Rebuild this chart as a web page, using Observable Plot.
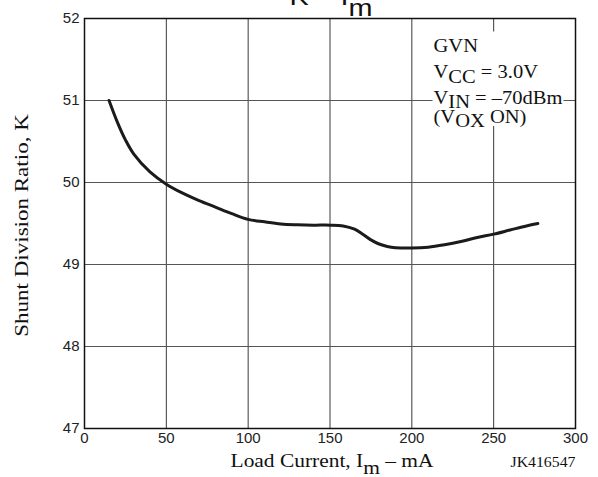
<!DOCTYPE html>
<html>
<head>
<meta charset="utf-8">
<script src="https://cdn.jsdelivr.net/npm/d3@7"></script>
<script src="https://cdn.jsdelivr.net/npm/@observablehq/plot@0.6"></script>
<style>
  html, body { margin: 0; padding: 0; background: white; }
</style>
</head>
<body>
<script>
// ---- data ----
const loadCurrent = [15, 20, 25, 30, 40, 50, 60, 70, 80, 90, 100, 110, 120, 130, 140, 150, 158, 165, 170, 175, 180, 185, 190, 200, 210, 220, 230, 240, 250, 260, 270, 277];
const shuntRatio  = [51.0, 50.74, 50.52, 50.35, 50.13, 49.98, 49.87, 49.78, 49.70, 49.62, 49.55, 49.52, 49.495, 49.485, 49.48, 49.48, 49.47, 49.43, 49.37, 49.30, 49.25, 49.22, 49.205, 49.20, 49.21, 49.24, 49.28, 49.33, 49.37, 49.42, 49.47, 49.50];
const xTicks = [0, 50, 100, 150, 200, 250, 300];
const yTicks = [47, 48, 49, 50, 51, 52];
const titleText = "K – I_{m}";
const xLabel = "Load Current, I_{m} – mA";
const yLabel = "Shunt Division Ratio, K";
const codeText = "JK416547";
const annotLines = ["GVN", "V_{CC} = 3.0V", "V_{IN} = –70dBm", "(V_{OX} ON)"];

const data = loadCurrent.map((x, i) => ({x, k: shuntRatio[i]}));

// ---- layout constants ----
const annotDy = [33, 59.5, 85, 104];
const serif = "'Liberation Serif', 'Times New Roman', serif";

const chart = Plot.plot({
  width: 598,
  height: 477,
  marginLeft: 84,
  marginRight: 23,
  marginTop: 18,
  marginBottom: 49,
  style: {fontFamily: "'Liberation Sans', Arial, sans-serif", fontSize: "15px", background: "white", color: "#222"},
  x: {domain: [0, 300], ticks: xTicks, tickSize: 0, tickPadding: 4, tickFormat: d => String(d), label: null},
  y: {domain: [47, 52], ticks: yTicks, tickSize: 0, tickPadding: 5, tickFormat: d => String(d), label: null},
  marks: [
    Plot.ruleX(xTicks, {stroke: "#3a3a3a", strokeWidth: 1}),
    Plot.ruleY(yTicks, {stroke: "#555", strokeWidth: 1}),
    Plot.line(data, {x: "x", y: "k", stroke: "#1c1a1b", strokeWidth: 3, curve: "catmull-rom"}),
    ...annotLines.map((line, i) => Plot.text([line], {
      text: d => d, frameAnchor: "top-left", textAnchor: "start", lineAnchor: "bottom",
      dx: 349, dy: annotDy[i], fontSize: 18, fontFamily: serif, fill: "#111"
    })),
    Plot.text([titleText], {text: d => d, frameAnchor: "top", textAnchor: "middle", lineAnchor: "bottom", dy: -14, dx: 1, fontSize: 24, fill: "#111"}),
    Plot.text([xLabel], {text: d => d, frameAnchor: "bottom", textAnchor: "middle", lineAnchor: "bottom", dy: 38, dx: 2, fontSize: 18, fontFamily: serif, fill: "#111"}),
    Plot.text([codeText], {text: d => d, frameAnchor: "bottom-right", textAnchor: "end", lineAnchor: "bottom", dy: 38, fontSize: 14, fontFamily: serif, fill: "#111"}),
    Plot.text([yLabel], {text: d => d, frameAnchor: "left", textAnchor: "middle", rotate: -90, dx: -62, dy: 2, fontSize: 18, fontFamily: serif, fill: "#111"}),
    Plot.frame({stroke: "#111", strokeWidth: 1.5})
  ]
});
document.body.append(chart);

// ---- rich text (subscripts) and horizontal stretch ----
const NS = "http://www.w3.org/2000/svg";
function setRich(el, str, shift) {
  el.textContent = "";
  const re = /_\{([^}]*)\}/g;
  const parts = [];
  let last = 0, m;
  while ((m = re.exec(str))) {
    if (m.index > last) parts.push([str.slice(last, m.index), false]);
    parts.push([m[1], true]);
    last = re.lastIndex;
  }
  if (last < str.length) parts.push([str.slice(last), false]);
  let cur = 0;
  for (const [t, sub] of parts) {
    const ts = document.createElementNS(NS, "tspan");
    const target = sub ? shift : 0;
    if (target !== cur) { ts.setAttribute("dy", target - cur); cur = target; }
    ts.textContent = t;
    el.appendChild(ts);
  }
}
function stretch(el, f) {
  const t = el.getAttribute("transform") || "";
  if (/rotate/.test(t)) {
    // scale along the (rotated) text direction, about the anchor point
    el.setAttribute("transform", `${t} scale(${f},1)`);
  } else {
    const L = el.getComputedTextLength();
    el.setAttribute("textLength", L * f);
    el.setAttribute("lengthAdjust", "spacingAndGlyphs");
  }
}
const cfg = new Map([
  [titleText, [11, 1.2]],
  [xLabel, [7, 1.19]],
  [yLabel, [0, 1.28]],
  [codeText, [0, 1.13]],
  ...annotLines.map(s => [s, [4.5, 1.14]])
]);
const annotEls = [];
chart.querySelectorAll("text").forEach(el => {
  const s = el.textContent;
  if (!cfg.has(s)) return;
  const [shift, f] = cfg.get(s);
  setRich(el, s, shift);
  stretch(el, f);
  if (annotLines.includes(s)) annotEls.push(el);
});

// white background behind the annotation block, derived from its rendered extent
if (annotEls.length) {
  const svgRect = chart.getBoundingClientRect();
  let x0 = Infinity, y0 = Infinity, x1 = -Infinity, y1 = -Infinity;
  annotEls.forEach(el => {
    const r = el.getBoundingClientRect();
    x0 = Math.min(x0, r.left - svgRect.left); y0 = Math.min(y0, r.top - svgRect.top);
    x1 = Math.max(x1, r.right - svgRect.left); y1 = Math.max(y1, r.bottom - svgRect.top);
  });
  const bg = document.createElementNS(NS, "rect");
  bg.setAttribute("x", x0 - 1); bg.setAttribute("y", y0 - 4);
  bg.setAttribute("width", x1 - x0 + 2); bg.setAttribute("height", (y1 - 5) - (y0 - 4));
  bg.setAttribute("fill", "white");
  const firstG = annotEls[0].closest("g");
  firstG.parentNode.insertBefore(bg, firstG);
}
</script>
</body>
</html>
